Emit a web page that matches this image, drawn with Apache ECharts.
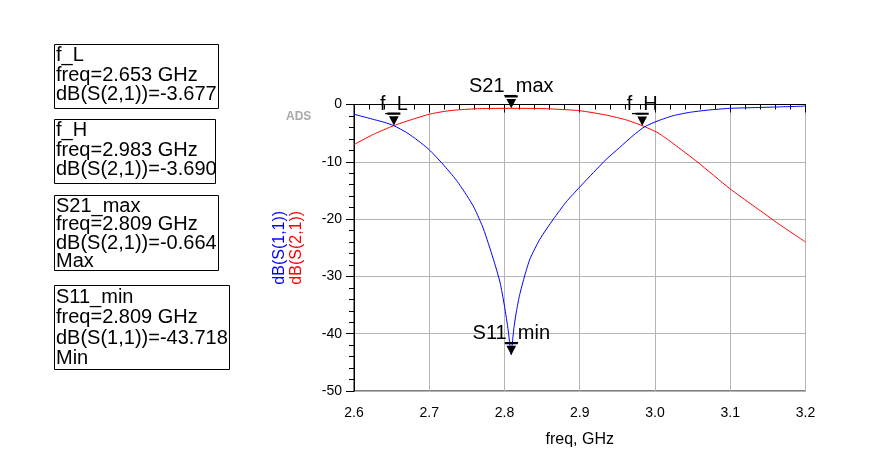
<!DOCTYPE html>
<html>
<head>
<meta charset="utf-8">
<script src="https://cdn.jsdelivr.net/npm/echarts@6/dist/echarts.min.js"></script>
<style>
  html, body { margin: 0; padding: 0; background: #fff; }
  #chart { width: 878px; height: 463px; }
</style>
</head>
<body>
<div id="chart"></div>
<script>
// S11 trace (blue)
const freqS11 = [2.600, 2.620, 2.640, 2.653, 2.670, 2.685, 2.700, 2.718, 2.736, 2.750, 2.760, 2.772,
  2.785, 2.794, 2.800, 2.805, 2.807, 2.809, 2.8105, 2.813, 2.816, 2.820, 2.827, 2.834, 2.847, 2.865,
  2.882, 2.900, 2.918, 2.935, 2.953, 2.971, 2.986, 3.004, 3.024, 3.046, 3.070, 3.099, 3.130, 3.165, 3.200];
const dbS11 = [-1.7, -2.4, -3.1, -3.7, -4.9, -6.3, -7.9, -10.4, -13.2, -15.9, -18.1, -21.7,
  -26.9, -31.0, -35.2, -39.5, -41.8, -43.7, -41.5, -38.5, -36.0, -33.3, -29.8, -26.9, -23.5, -20.0,
  -17.0, -14.4, -11.9, -9.6, -7.5, -5.4, -3.9, -2.85, -1.96, -1.37, -0.98, -0.67, -0.55, -0.42, -0.28];

// S21 trace (red)
const freqS21 = [2.600, 2.626, 2.653, 2.675, 2.700, 2.720, 2.736, 2.767, 2.809, 2.847, 2.865, 2.900,
  2.935, 2.962, 2.983, 3.004, 3.024, 3.057, 3.099, 3.130, 3.165, 3.200];
const dbS21 = [-7.0, -5.2, -3.68, -2.7, -1.7, -1.2, -0.96, -0.72, -0.664, -0.7, -0.79, -1.08,
  -1.84, -2.7, -3.69, -4.95, -6.8, -10.1, -14.65, -17.6, -20.9, -24.0];

// markers
const markerNames = ['f_L', 'f_H', 'S21_max', 'S11_min'];
const markerFreq = [2.653, 2.983, 2.809, 2.809];
const markerDb = [-3.677, -3.690, -0.664, -43.718];
const markerTrace = ['dB(S(2,1))', 'dB(S(2,1))', 'dB(S(2,1))', 'dB(S(1,1))'];
const markerMode = ['', '', 'Max', 'Min'];

// readout box layout
const boxTop = [44, 119, 195, 285];
const boxWidth = [164, 161, 164, 175];
const boxHeight = [64, 64, 75, 84];
const boxLine = [19.5, 19.5, 18.5, 20.5];

const markerSymbol = 'path://M0,0 L12,0 L12,2 L0,2 Z M1.5,3.5 L10.5,3.5 L6,12 Z';

const readouts = [];
markerNames.forEach((name, i) => {
  let txt = name + '\nfreq=' + markerFreq[i].toFixed(3) + ' GHz\n' +
    markerTrace[i] + '=' + markerDb[i].toFixed(3);
  if (markerMode[i]) txt += '\n' + markerMode[i];
  readouts.push({
    type: 'rect',
    shape: { x: 54.5, y: boxTop[i] + 0.5, width: boxWidth[i], height: boxHeight[i] },
    style: { fill: '#fff', stroke: '#000', lineWidth: 1 },
  });
  readouts.push({
    type: 'text',
    x: 56,
    y: boxTop[i] + 2,
    style: {
      text: txt,
      font: '20px "Liberation Sans", Arial, sans-serif',
      fill: '#000',
      lineHeight: boxLine[i],
    },
  });
});

const chart = echarts.init(document.getElementById('chart'));
chart.setOption({
  animation: false,
  backgroundColor: '#fff',
  textStyle: { fontFamily: '"Liberation Sans", Arial, sans-serif' },
  grid: {
    left: 354, right: 72.5, top: 104.5, bottom: 72,
    show: true, borderColor: '#000', borderWidth: 1,
  },
  xAxis: {
    type: 'value',
    min: 2.6, max: 3.2, interval: 0.1,
    name: 'freq, GHz',
    nameLocation: 'middle',
    nameGap: 41,
    nameTextStyle: { color: '#000', fontSize: 16 },
    axisLine: { lineStyle: { color: '#000' } },
    axisTick: { length: 8, lineStyle: { color: '#000' } },
    minorTick: { show: true, splitNumber: 5, length: 5, lineStyle: { color: '#000' } },
    axisLabel: { color: '#000', fontSize: 14, margin: 15, formatter: v => v.toFixed(1) },
    splitLine: { show: true, lineStyle: { color: '#b4b4b4' } },
  },
  yAxis: {
    type: 'value',
    min: -50, max: 0, interval: 10,
    name: '{a|dB(S(1,1))}\n{b|dB(S(2,1))}',
    nameLocation: 'middle',
    nameRotate: 90,
    nameGap: 49,
    nameTextStyle: {
      rich: {
        a: { color: '#0000ff', fontSize: 16, lineHeight: 17 },
        b: { color: '#ff0000', fontSize: 16, lineHeight: 17 },
      },
    },
    axisLine: { lineStyle: { color: '#000' } },
    axisTick: { length: 8, lineStyle: { color: '#000' } },
    minorTick: { show: true, splitNumber: 5, length: 5, lineStyle: { color: '#000' } },
    axisLabel: { color: '#000', fontSize: 14, margin: 12 },
    splitLine: { show: true, lineStyle: { color: '#b4b4b4' } },
  },
  series: [
    {
      name: 'dB(S(2,1))',
      type: 'line',
      data: freqS21.map((f, i) => [f, dbS21[i]]),
      showSymbol: false,
      smooth: 0.2,
      lineStyle: { color: '#ff0000', width: 1 },
      z: 2,
    },
    {
      name: 'dB(S(1,1))',
      type: 'line',
      data: freqS11.map((f, i) => [f, dbS11[i]]),
      showSymbol: false,
      smooth: 0.2,
      lineStyle: { color: '#0000ff', width: 1 },
      z: 3,
    },
    {
      name: 'markers',
      type: 'scatter',
      clip: false,
      data: markerNames.map((n, i) => ({ name: n, value: [markerFreq[i], markerDb[i]] })),
      symbol: markerSymbol,
      symbolSize: [13, 13],
      symbolOffset: [0, '-50%'],
      itemStyle: { color: '#000', opacity: 1 },
      label: {
        show: true,
        position: 'inside',
        offset: [0, -15],
        formatter: p => p.name,
        color: '#000',
        fontSize: 20,
        textBorderWidth: 0,
      },
      emphasis: { disabled: true },
      z: 5,
    },
  ],
  graphic: [
    {
      type: 'text',
      x: 286,
      y: 111,
      style: {
        text: 'ADS',
        font: 'bold 12px "Liberation Sans", Arial, sans-serif',
        fill: '#a8a8a8',
      },
    },
  ].concat(readouts),
});
</script>
</body>
</html>
